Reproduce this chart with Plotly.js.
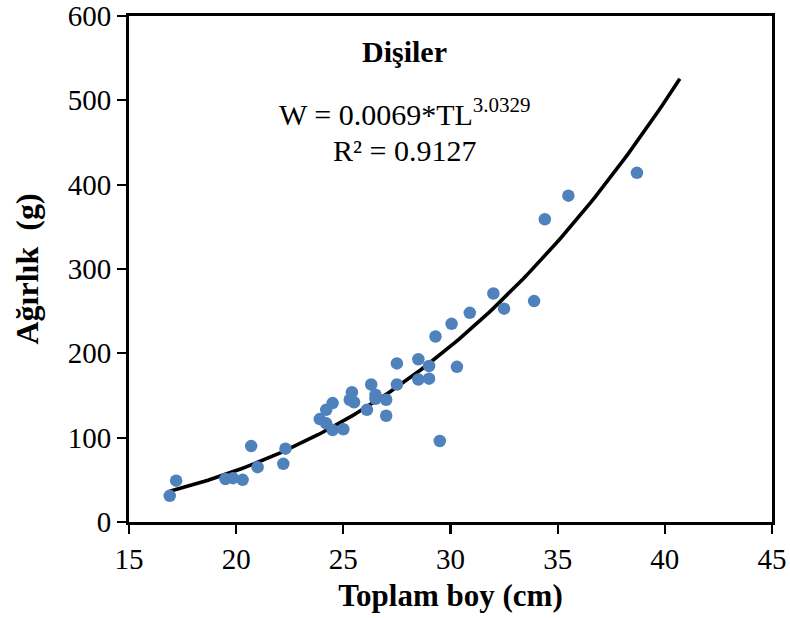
<!DOCTYPE html>
<html>
<head>
<meta charset="utf-8">
<script src="https://cdn.plot.ly/plotly-3.0.1.min.js"></script>
<style>html,body{margin:0;padding:0;background:#fff;}#chart{width:790px;height:618px;}</style>
</head>
<body>
<div id="chart"></div>
<script>
// Observed data: total length (cm) and weight (g) of females
var lengthCm = [16.9, 17.2, 19.5, 19.85, 20.3, 20.7, 21.0, 22.2, 22.3, 23.9,
                24.2, 24.5, 24.2, 24.5, 25.0, 25.4, 25.3, 25.5, 26.1, 26.3,
                26.5, 26.5, 27.0, 27.0, 27.5, 27.5, 28.5, 28.5, 29.0, 29.0,
                29.5, 29.3, 30.3, 30.05, 30.9, 32.0, 32.5, 33.9, 34.4, 35.5, 38.7];
var weightG = [31, 49, 51, 52, 50, 90, 65, 69, 87, 122,
               133, 141, 117, 109, 110, 154, 145, 142, 133, 163,
               151, 146, 145, 126, 188, 163, 193, 169, 185, 170,
               96, 220, 184, 235, 248, 271, 253, 262, 359, 387, 414];

// Power trendline as printed on the chart: W = a * TL^b
var fitA = 0.0069;
var fitB = 3.0329;
var fitStart = 16.9;
var fitEnd = 40.7;

var xTicks = [15, 20, 25, 30, 35, 40, 45];
var yTicks = [0, 100, 200, 300, 400, 500, 600];

var fitX = [], fitY = [];
var n = 120;
for (var i = 0; i <= n; i++) {
  var x = fitStart + (fitEnd - fitStart) * i / n;
  fitX.push(x);
  fitY.push(fitA * Math.pow(x, fitB));
}

var font = "'Liberation Serif', 'Times New Roman', serif";

var data = [
  {x: fitX, y: fitY, type: 'scatter', mode: 'lines',
   line: {color: '#000000', width: 3.6}, hoverinfo: 'skip'},
  {x: lengthCm, y: weightG, type: 'scatter', mode: 'markers',
   marker: {color: '#4F81BD', size: 12.5}}
];

var layout = {
  width: 790, height: 618,
  margin: {l: 128.5, r: 17.5, t: 16, b: 96},
  paper_bgcolor: '#ffffff', plot_bgcolor: '#ffffff',
  showlegend: false,
  font: {family: font, color: '#000000', size: 29},
  xaxis: {
    range: [15, 45], tickvals: xTicks, ticktext: xTicks.map(String),
    showgrid: false, zeroline: false,
    showline: true, linecolor: '#000000', linewidth: 3, mirror: true,
    ticks: 'outside', ticklen: 9, tickwidth: 2.2, tickcolor: '#000000',
    tickfont: {family: font, size: 29},
    title: {text: 'Toplam boy (cm)', font: {family: font, size: 31, weight: 'bold'}, standoff: 11}
  },
  yaxis: {
    range: [0, 600], tickvals: yTicks, ticktext: yTicks.map(String),
    showgrid: false, zeroline: false,
    showline: true, linecolor: '#000000', linewidth: 3, mirror: true,
    ticks: 'outside', ticklen: 9, tickwidth: 2.2, tickcolor: '#000000',
    tickfont: {family: font, size: 29},
    title: {text: 'Ağırlık  (g)', font: {family: font, size: 32, weight: 'bold'}, standoff: 20}
  },
  annotations: [
    {xref: 'paper', yref: 'paper', x: 0.429, y: 0.929, xanchor: 'center', yanchor: 'middle',
     text: '<b>Dişiler</b>', showarrow: false, font: {family: font, size: 30}},
    {xref: 'paper', yref: 'paper', x: 0.429, y: 0.81, xanchor: 'center', yanchor: 'middle',
     text: 'W = 0.0069*TL<sup>3.0329</sup>', showarrow: false, font: {family: font, size: 30}},
    {xref: 'paper', yref: 'paper', x: 0.429, y: 0.735, xanchor: 'center', yanchor: 'middle',
     text: 'R² = 0.9127', showarrow: false, font: {family: font, size: 30}}
  ]
};

Plotly.newPlot('chart', data, layout, {displayModeBar: false, staticPlot: true});
</script>
</body>
</html>
